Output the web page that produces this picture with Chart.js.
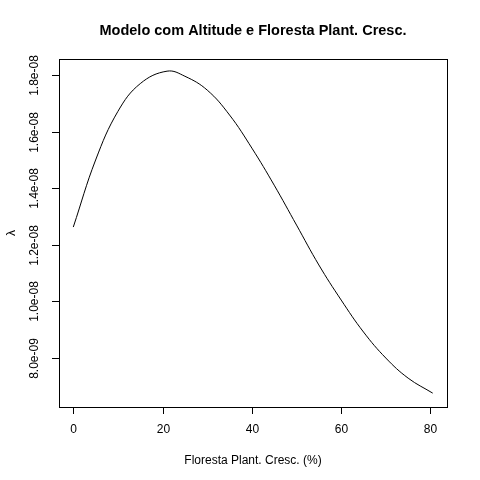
<!DOCTYPE html>
<html><head>
<script src="https://cdn.jsdelivr.net/npm/chart.js@4"></script>
<style>body{margin:0;background:#fff}#wrap{width:480px;height:480px}</style>
</head><body><div id="wrap"><canvas id="c"></canvas></div>
<script>
const xs = [0, 5, 10, 15, 21, 25, 30, 35, 40, 45, 50, 55, 60, 65, 70, 75, 80.5];
const lambda = [12.63, 15.0, 16.72, 17.7, 18.14, 17.96, 17.47, 16.59, 15.42, 14.11, 12.7, 11.29, 10.05, 8.92, 8.0, 7.29, 6.76].map(v => v * 1e-9);
const xTicks = [0, 20, 40, 60, 80];
const yTicks = [8e-9, 1e-8, 1.2e-8, 1.4e-8, 1.6e-8, 1.8e-8];
const yTickLabels = ['8.0e-09', '1.0e-08', '1.2e-08', '1.4e-08', '1.6e-08', '1.8e-08'];

const font = '"Liberation Sans", Arial, sans-serif';
const axesPlugin = {
  id: 'rAxes',
  afterDraw(chart) {
    const {ctx, chartArea: a, scales: {x, y}} = chart;
    ctx.save();
    ctx.strokeStyle = '#000'; ctx.fillStyle = '#000'; ctx.lineWidth = 1;
    ctx.strokeRect(a.left + 0.5, a.top + 0.5, a.right - a.left, a.bottom - a.top);
    ctx.font = '12px ' + font;
    ctx.textAlign = 'center'; ctx.textBaseline = 'top';
    ctx.beginPath();
    xTicks.forEach(t => {
      const px = Math.round(x.getPixelForValue(t)) + 0.5;
      ctx.moveTo(px, a.bottom); ctx.lineTo(px, a.bottom + 7);
      ctx.fillText(String(t), px, a.bottom + 17);
    });
    ctx.stroke();
    ctx.beginPath();
    yTicks.forEach((t, i) => {
      const py = Math.round(y.getPixelForValue(t)) + 0.5;
      ctx.moveTo(a.left, py); ctx.lineTo(a.left - 7, py);
      ctx.save(); ctx.translate(a.left - 24, py); ctx.rotate(-Math.PI / 2);
      ctx.textBaseline = 'middle'; ctx.fillText(yTickLabels[i], 0, 0); ctx.restore();
    });
    ctx.stroke();
    ctx.fillText('Floresta Plant. Cresc. (%)', (a.left + a.right) / 2, 455);
    ctx.save(); ctx.translate(12, (a.top + a.bottom) / 2); ctx.rotate(-Math.PI / 2);
    ctx.textBaseline = 'middle'; ctx.fillText('λ', 0, 0); ctx.restore();
    ctx.font = 'bold 14.5px ' + font; ctx.textBaseline = 'middle';
    ctx.fillText('Modelo com Altitude e Floresta Plant. Cresc.', (a.left + a.right) / 2, 31);
    ctx.restore();
  }
};

new Chart(document.getElementById('c'), {
  type: 'line',
  data: { datasets: [{ data: xs.map((v, i) => ({x: v, y: lambda[i]})), borderColor: '#000', borderWidth: 1, pointRadius: 0, tension: 0.4, fill: false }] },
  options: {
    responsive: true, maintainAspectRatio: false, animation: false,
    layout: { padding: { left: 59, right: 33, top: 59, bottom: 73 } },
    plugins: { legend: { display: false }, tooltip: { enabled: false } },
    scales: {
      x: { type: 'linear', min: -3.2, max: 83.7, display: false },
      y: { min: 6.27e-9, max: 1.857e-8, display: false }
    }
  },
  plugins: [axesPlugin]
});
</script></body></html>
